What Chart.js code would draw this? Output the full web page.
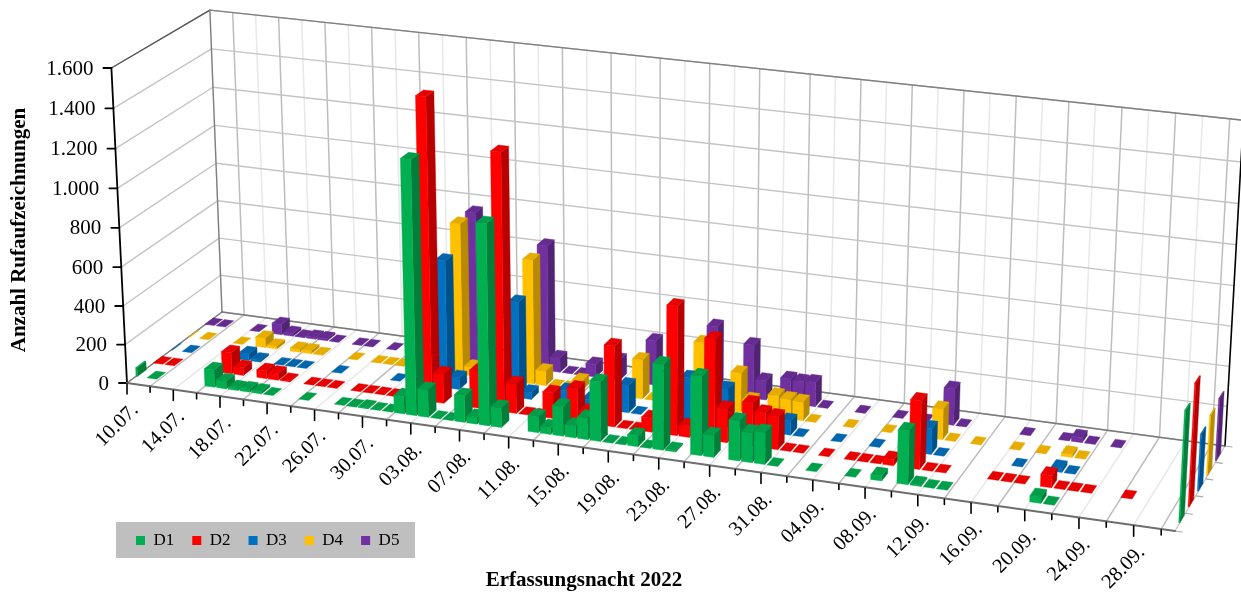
<!DOCTYPE html>
<html>
<head>
<meta charset="utf-8">
<title>Rufaufzeichnungen 2022</title>
<script src="https://cdn.jsdelivr.net/npm/chart.js@4"></script>
<style>
    html, body { margin: 0; padding: 0; background: #fff; }
    canvas { display: block; }
</style>
</head>
<body>
<canvas id="calls-chart" width="1241" height="594"></canvas>
<script>
const _ = null;

// one label every fourth night, the nights in between stay empty
const tickLabels = ['10.07.', '14.07.', '18.07.', '22.07.', '26.07.', '30.07.', '03.08.', '07.08.', '11.08.', '15.08.', '19.08.',
    '23.08.', '27.08.', '31.08.', '04.09.', '08.09.', '12.09.', '16.09.', '20.09.', '24.09.', '28.09.'];
const seriesNames = ['D1', 'D2', 'D3', 'D4', 'D5'];
const seriesColors = ['#00B050', '#FF0000', '#0070C0', '#FFC000', '#7030A0'];

const d1 = [
    _, 0, _, _, _, _, 90, 40, 12, 15,
    12, 0, _, _, 0, _, _, 0, 0, 5,
    0, 0, 90, 1285, 140, 0, 0, 135, 35, 1015,
    100, _, _, 80, 35, 150, 60, 110, 300, 0,
    0, 55, 0, 430, 8, _, 395, 110, _, 200,
    150, 160, 0, _, _, 0, _, _, 0, _,
    25, _, 265, 8, 0, 0, _, _, _, _,
    _, _, 30, 0, _, _, _, _, _, _,
    _, _, _];
const d2 = [
    0, 0, _, _, _, _, 110, 40, _, 40,
    35, 5, _, 0, 0, 0, _, 0, 0, 0,
    0, _, _, 1535, 150, _, _, 190, _, 1305,
    150, 0, 0, 130, _, 170, 60, _, 410, 0,
    0, 70, _, 650, 55, _, 510, 170, _, 215,
    175, 165, 0, 0, _, 0, _, 0, 0, 0,
    30, _, 340, 0, 0, _, _, _, 0, 0,
    0, _, 60, 0, 0, 0, _, _, 0, _,
    _, _, _];
const d3 = [
    _, 0, _, _, _, _, 35, 10, _, 0,
    0, 0, _, _, 0, _, _, _, _, 0,
    _, _, _, 655, 60, _, _, _, _, 490,
    35, _, _, 70, _, 40, _, _, 140, 0,
    _, _, _, 220, _, _, 190, 10, _, _,
    _, 70, 0, _, _, 0, _, _, 0, _,
    _, _, 130, 0, _, _, _, _, _, 0,
    _, _, 20, 0, _, _, _, _, _, _,
    _, _, _];
const d4 = [
    _, 0, _, _, 0, _, 50, 15, _, 15,
    15, 3, _, _, 0, _, 0, 0, 0, _,
    _, _, _, 780, 45, _, _, _, _, 640,
    75, 0, 0, 50, _, 30, _, 30, 200, 0,
    _, _, _, 330, _, _, 200, 70, _, 110,
    100, 95, 0, _, _, 0, _, _, 0, _,
    _, _, 155, 0, _, 0, _, _, 0, _,
    0, _, 15, 0, _, _, _, _, _, _,
    _, _, _];
const d5 = [
    0, 0, _, _, 0, _, 55, 15, 3, 10,
    10, 0, _, 0, 0, _, 0, _, _, _,
    _, _, _, 775, _, _, _, _, _, 650,
    75, 0, 0, 65, _, 105, _, _, 230, _,
    _, _, _, 345, 15, _, 275, 100, _, 125,
    120, 125, 0, _, _, 0, _, _, 0, _,
    0, _, 185, 0, _, _, _, _, 0, _,
    _, 0, 25, 0, _, 0, _, _, _, _,
    _, _, _];
const seriesValues = [d1, d2, d3, d4, d5];

// the thin slivers that sit against the side walls, one per series
const leftEdgeValues = [45, 0, 0, 0, 0];
const rightEdgeValues = [540, 600, 280, 300, 310];

const categories = d1.map((v, i) => i % 4 === 0 ? tickLabels[i / 4] : '');

// Floor corners as seen on screen: front-left, front-right, back-right, back-left
const floorCorners = [[127, 383], [1175, 531], [1225, 446], [222, 312]];
// Where the upright edges of the box meet far below the picture
const uprightVanish = [643, 10800];
const heightStrength = -0.02935;

function makeFloorMap(q) {
    const [x0, y0] = q[0], [x1, y1] = q[1], [x2, y2] = q[2], [x3, y3] = q[3];
    const dx1 = x1 - x2, dx2 = x3 - x2, sx = x0 - x1 + x2 - x3;
    const dy1 = y1 - y2, dy2 = y3 - y2, sy = y0 - y1 + y2 - y3;
    const den = dx1 * dy2 - dx2 * dy1;
    const g = (sx * dy2 - dx2 * sy) / den;
    const h = (dx1 * sy - sx * dy1) / den;
    return (u, w) => ({
        nx: (x1 - x0 + g * x1) * u + (x3 - x0 + h * x3) * w + x0,
        ny: (y1 - y0 + g * y1) * u + (y3 - y0 + h * y3) * w + y0,
        d: g * u + h * w + 1
    });
}
const floorMap = makeFloorMap(floorCorners);

// u along the nights, w into the depth, v up the value axis, all 0..1
function project(u, w, v) {
    const f = floorMap(u, w);
    const t = heightStrength * v;
    return [(f.nx + t * uprightVanish[0]) / (f.d + t), (f.ny + t * uprightVanish[1]) / (f.d + t)];
}

function shade(hex, k) {
    const n = parseInt(hex.slice(1), 16);
    const c = [n >> 16, (n >> 8) & 255, n & 255].map(x => Math.round(x * k));
    return `rgb(${c[0]},${c[1]},${c[2]})`;
}

function poly(ctx, pts, color) {
    ctx.beginPath();
    pts.forEach((p, i) => i ? ctx.lineTo(p[0], p[1]) : ctx.moveTo(p[0], p[1]));
    ctx.closePath();
    ctx.fillStyle = color;
    ctx.strokeStyle = color;
    ctx.lineWidth = 0.4;
    ctx.fill();
    ctx.stroke();
}

function line(ctx, a, b, color, width) {
    ctx.beginPath();
    ctx.moveTo(a[0], a[1]);
    ctx.lineTo(b[0], b[1]);
    ctx.strokeStyle = color;
    ctx.lineWidth = width;
    ctx.stroke();
}

function toU(chart, value) {
    const x = chart.scales.x;
    return (x.getPixelForValue(value) - x.left) / x.width;
}
function toW(chart, value) {
    const z = chart.scales.depth;
    return (z.getPixelForValue(value) - z.left) / z.width;
}
function toV(chart, value) {
    const y = chart.scales.y;
    return (y.bottom - y.getPixelForValue(value)) / y.height;
}

function drawBox(chart, ctx, xFrom, xTo, series, value) {
    const u1 = toU(chart, xFrom), u2 = toU(chart, xTo);
    const w1 = toW(chart, series + 0.25), w2 = toW(chart, series + 0.75);
    const v = toV(chart, value);
    const color = seriesColors[series];
    if (v > 0) {
        poly(ctx, [project(u2, w1, 0), project(u2, w2, 0), project(u2, w2, v), project(u2, w1, v)], shade(color, 0.72));
        poly(ctx, [project(u1, w1, 0), project(u2, w1, 0), project(u2, w1, v), project(u1, w1, v)], color);
    }
    poly(ctx, [project(u1, w1, v), project(u2, w1, v), project(u2, w2, v), project(u1, w2, v)], shade(color, 0.9));
}

const box3dPlugin = {
    id: 'box3d',
    beforeDraw(chart) {
        const ctx = chart.ctx;
        const yTicks = chart.scales.y.ticks;
        const lastNight = categories.length - 0.5;
        ctx.save();
        ctx.lineCap = 'round';

        // grey legend panel, the legend itself is moved onto it
        ctx.fillStyle = '#BFBFBF';
        ctx.fillRect(116, 522, 299, 36);
        const legend = chart.legend;
        legend.left = 118;
        legend.right = 1000;
        legend.top = 514;

        // walls and floor grid
        for (let c = 0; c <= categories.length; c += 2) {
            const u = toU(chart, c - 0.5);
            const color = c % 4 === 2 ? '#BDBDBD' : '#E8E8E8';
            line(ctx, project(u, 1, 0), project(u, 1, 1), color, 1.5);
            line(ctx, project(u, 0, 0), project(u, 1, 0), color, 1.5);
        }
        yTicks.forEach(t => {
            const v = toV(chart, t.value);
            line(ctx, project(0, 0, v), project(0, 1, v), '#C4C4C4', 1.4);
            line(ctx, project(0, 1, v), project(1, 1, v), '#C4C4C4', 1.4);
        });
        line(ctx, project(0, 0, 1), project(0, 1, 1), '#555555', 1.4);
        line(ctx, project(0, 1, 1), project(1, 1, 1), '#808080', 1.4);
        line(ctx, project(0, 1, 0), project(0, 1, 1), '#808080', 1.4);
        line(ctx, project(0, 0, 0), project(0, 1, 0), '#808080', 1.4);
        line(ctx, project(0, 1, 0), project(1, 1, 0), '#7A7A7A', 1.6);
        line(ctx, project(1, 0, 0), project(1, 1, 0), '#C4C4C4', 1.2);
        line(ctx, project(1, 1, 0), project(1, 1, 1), '#000000', 1.6);

        // depth ticks on the right floor edge
        for (let k = 0; k <= 5; k++) {
            const p = project(1, k / 5, 0);
            line(ctx, p, [p[0] + 7, p[1] + 1], '#AAAAAA', 1.2);
        }

        // value axis
        line(ctx, project(0, 0, 0), project(0, 0, 1), '#000000', 1.8);
        ctx.font = '21px "Liberation Serif"';
        ctx.textAlign = 'right';
        ctx.textBaseline = 'middle';
        yTicks.forEach(t => {
            const p = project(0, 0, toV(chart, t.value));
            line(ctx, p, [p[0] - 8, p[1]], '#000000', 1.8);
            ctx.fillStyle = '#000';
            ctx.fillText(t.label, p[0] - 18, p[1] + 1);
        });

        // night axis
        line(ctx, project(0, 0, 0), project(1, 0, 0), '#6E6E6E', 1.8);
        for (let c = 0; c < lastNight; c += 2) {
            const p = project(toU(chart, c - 0.5), 0, 0);
            line(ctx, [p[0], p[1] + 1], [p[0], p[1] + (c % 4 === 0 ? 11 : 6)], '#000000', 1.6);
        }
        ctx.font = '20.5px "Liberation Serif"';
        ctx.textAlign = 'right';
        ctx.textBaseline = 'alphabetic';
        tickLabels.forEach((label, i) => {
            const p = project(toU(chart, i * 4 - 0.5), 0, 0);
            ctx.save();
            ctx.translate(p[0] + 12, p[1] + 28);
            ctx.rotate(-Math.PI / 4);
            ctx.fillStyle = '#000';
            ctx.fillText(label, 0, 0);
            ctx.restore();
        });

        // axis titles
        ctx.font = 'bold 21px "Liberation Serif"';
        ctx.textAlign = 'center';
        ctx.textBaseline = 'middle';
        ctx.fillStyle = '#000';
        ctx.fillText('Erfassungsnacht 2022', 584, 581);
        ctx.save();
        ctx.translate(20, 230);
        ctx.rotate(-Math.PI / 2);
        ctx.fillText('Anzahl Rufaufzeichnungen', 0, 0);
        ctx.restore();
        ctx.restore();
    },
    // the library's flat bars are replaced by the boxes below
    beforeDatasetDraw() {
        return false;
    },
    afterDatasetsDraw(chart) {
        const ctx = chart.ctx;
        const first = -0.5, last = categories.length - 0.5;
        ctx.save();
        for (let s = seriesValues.length - 1; s >= 0; s--) {
            drawBox(chart, ctx, first, first + 0.12, s, leftEdgeValues[s]);
            seriesValues[s].forEach((value, i) => {
                // bars sit a little left of the middle of their night
                if (value !== null) drawBox(chart, ctx, i - 0.54, i + 0.30, s, value);
            });
            drawBox(chart, ctx, last - 0.08, last, s, rightEdgeValues[s]);
        }
        ctx.restore();
    }
};

new Chart(document.getElementById('calls-chart'), {
    type: 'bar',
    data: {
        labels: categories,
        datasets: seriesNames.map((name, s) => ({
            label: name,
            data: seriesValues[s],
            backgroundColor: seriesColors[s],
            borderWidth: 0
        }))
    },
    options: {
        responsive: false,
        animation: false,
        layout: { padding: 0 },
        scales: {
            x: { display: false },
            y: {
                display: false,
                min: 0,
                max: 1600,
                ticks: {
                    stepSize: 200,
                    callback: value => value.toLocaleString('de-DE')
                }
            },
            depth: { type: 'linear', position: 'top', display: false, min: 0, max: 5 }
        },
        plugins: {
            title: { display: false },
            tooltip: { enabled: false },
            legend: {
                display: true,
                position: 'bottom',
                align: 'start',
                labels: {
                    color: '#000',
                    boxWidth: 9,
                    boxHeight: 9,
                    padding: 18,
                    font: { family: '"Liberation Serif"', size: 17 }
                }
            }
        }
    },
    plugins: [box3dPlugin]
});
</script>
</body>
</html>
